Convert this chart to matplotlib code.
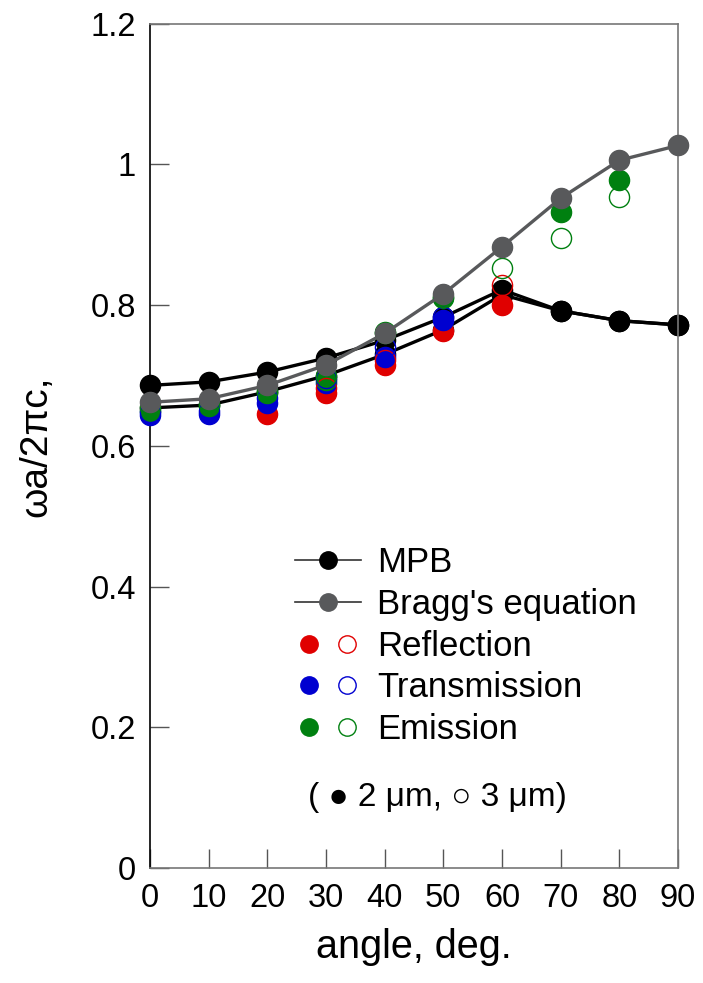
import matplotlib
matplotlib.use("Agg")
import matplotlib.pyplot as plt
from matplotlib.lines import Line2D
from matplotlib.legend_handler import HandlerTuple

plt.rcParams['font.family'] = ['Liberation Sans', 'DejaVu Sans']

angles = [0, 10, 20, 30, 40, 50, 60, 70, 80, 90]

# MPB band edges (two branches merging above 60 deg)
mpb_upper_x = [0, 10, 20, 30, 40, 50, 60, 70, 80, 90]
mpb_upper = [0.686, 0.691, 0.705, 0.725, 0.750, 0.783, 0.822, 0.792, 0.778, 0.772]
mpb_lower_x = [0, 10, 20, 30, 40, 50, 60, 70, 80, 90]
mpb_lower = [0.654, 0.658, 0.677, 0.700, 0.730, 0.765, 0.815, 0.792, 0.778, 0.772]

# Bragg's equation
bragg = [0.662, 0.667, 0.686, 0.715, 0.760, 0.816, 0.883, 0.952, 1.006, 1.027]

# Reflection
refl_2um_x = [20, 30, 40, 50, 60]
refl_2um = [0.645, 0.675, 0.715, 0.763, 0.800]
refl_3um_x = [30, 40, 60]
refl_3um = [0.682, 0.722, 0.829]

# Transmission
trans_2um_x = [0, 10, 20, 30, 40, 50]
trans_2um = [0.644, 0.645, 0.661, 0.690, 0.727, 0.779]
trans_3um_x = [0, 10, 20, 30, 40, 50]
trans_3um = [0.648, 0.650, 0.668, 0.697, 0.740, 0.783]

# Emission
emis_2um_x = [0, 10, 20, 30, 40, 50, 70, 80]
emis_2um = [0.650, 0.656, 0.675, 0.694, 0.760, 0.810, 0.933, 0.978]
emis_3um_x = [0, 10, 20, 30, 40, 50, 60, 70, 80]
emis_3um = [0.655, 0.660, 0.678, 0.700, 0.762, 0.812, 0.853, 0.895, 0.954]

RED = '#e00000'
BLUE = '#0000d0'
GREEN = '#008010'
GRAY = '#58595b'
MS = 14.5
LMS = 12.5

fig = plt.figure(figsize=(7.03, 9.83), dpi=100)
ax = fig.add_axes([0.2134, 0.117, 0.751, 0.8588])

kw = dict(clip_on=False)
ax.plot(mpb_upper_x, mpb_upper, '-o', color='black', lw=2.4, ms=MS, zorder=2, **kw)
ax.plot(mpb_lower_x, mpb_lower, '-o', color='black', lw=2.4, ms=MS, zorder=2, **kw)

ax.plot(refl_2um_x, refl_2um, 'o', color=RED, ms=MS, zorder=3, **kw)
ax.plot(trans_2um_x, trans_2um, 'o', color=BLUE, ms=MS, zorder=3, **kw)
ax.plot(emis_2um_x, emis_2um, 'o', color=GREEN, ms=MS, zorder=3, **kw)
ax.plot(refl_3um_x, refl_3um, 'o', mfc='none', mec=RED, mew=1.0, ms=MS, zorder=4, **kw)
ax.plot(trans_3um_x, trans_3um, 'o', mfc='none', mec=BLUE, mew=1.0, ms=MS, zorder=4, **kw)
ax.plot(emis_3um_x, emis_3um, 'o', mfc='none', mec=GREEN, mew=1.0, ms=MS, zorder=4, **kw)

ax.plot(angles, bragg, '-o', color=GRAY, lw=2.4, ms=MS, zorder=5, **kw)

ax.set_xlim(0, 90)
ax.set_ylim(0, 1.2)
ax.set_xticks(angles)
ax.set_yticks([0, 0.2, 0.4, 0.6, 0.8, 1.0, 1.2])
ax.set_yticklabels(['0', '0.2', '0.4', '0.6', '0.8', '1', '1.2'])
ax.tick_params(axis='both', direction='in', length=14, width=1.0,
               color='#555555', labelsize=23.5)
ax.tick_params(axis='y', pad=10)
ax.tick_params(axis='x', pad=11)
for side in ['top', 'right', 'bottom']:
    ax.spines[side].set_color('#777777')
    ax.spines[side].set_linewidth(1.2)
ax.spines['left'].set_color('black')
ax.spines['left'].set_linewidth(1.2)

ax.set_xlabel('angle, deg.', fontsize=28.5, labelpad=10)
ax.set_ylabel('ωa/2πc,', fontsize=28, labelpad=26)

h_mpb = Line2D([], [], color='#333333', lw=1.2, marker='o', ms=LMS,
               mfc='black', mec='black')
h_bragg = Line2D([], [], color='#333333', lw=1.2, marker='o', ms=LMS,
                 mfc=GRAY, mec=GRAY)


def pair(c):
    f = Line2D([], [], ls='none', marker='o', color=c, ms=LMS)
    o = Line2D([], [], ls='none', marker='o', mfc='none', mec=c, mew=1.0, ms=LMS)
    return (f, o)


handles = [h_mpb, h_bragg, pair(RED), pair(BLUE), pair(GREEN)]
labels = ['MPB', "Bragg's equation", 'Reflection', 'Transmission', 'Emission']
ax.legend(handles, labels, loc='upper left', bbox_to_anchor=(0.275, 0.381),
          frameon=False, fontsize=25, handlelength=1.9, handletextpad=0.45,
          labelspacing=0.25, borderpad=0, borderaxespad=0,
          handler_map={tuple: HandlerTuple(ndivide=None, pad=0.3)})

ax.text(0.299, 0.084, '( ● 2 μm, ○ 3 μm)', transform=ax.transAxes,
        fontsize=24, va='center', ha='left',
        family=['Liberation Sans', 'DejaVu Sans'])

fig.savefig('out.png', dpi=100)
